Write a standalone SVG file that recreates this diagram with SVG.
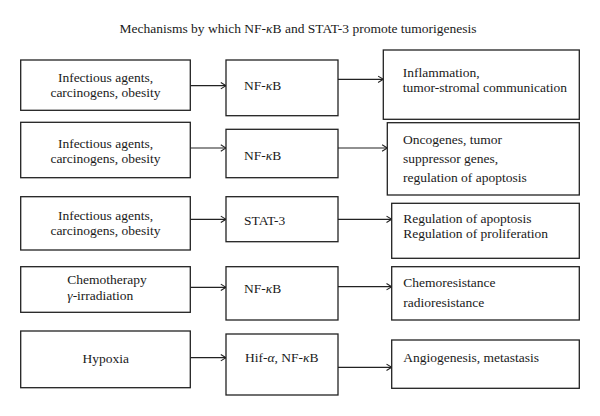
<svg xmlns="http://www.w3.org/2000/svg" width="600" height="416" viewBox="0 0 600 416">
<defs>
<style>
text{font-family:"Liberation Serif","DejaVu Serif",serif;font-size:13.5px;fill:#1a1a1a}
.t{font-size:13.5px}
.c{text-anchor:middle}
.box{fill:#fff;stroke:#222;stroke-width:1.3}
.con{stroke:#222;stroke-width:1.2;fill:none;marker-end:url(#ah)}
.g{font-style:italic}
</style>
<marker id="ah" viewBox="0 0 10 10" refX="9.5" refY="5" markerWidth="8" markerHeight="8" markerUnits="userSpaceOnUse" orient="auto">
<path d="M3,1 L9.5,5 L3,9" fill="none" stroke="#222" stroke-width="1.3"/>
</marker>
</defs>
<rect width="600" height="416" fill="#fff"/>
<text class="t c" x="298" y="33">Mechanisms by which NF-<tspan class="g">κ</tspan>B and STAT-3 promote tumorigenesis</text>

<g id="connectors">
<line class="con" x1="190.3" y1="85.7" x2="226" y2="85.7"/>
<line class="con" x1="338" y1="79.3" x2="383.3" y2="79.3"/>
<line class="con" x1="190.3" y1="148" x2="226" y2="148"/>
<line class="con" x1="338" y1="148" x2="387.3" y2="148"/>
<line class="con" x1="190.3" y1="219.3" x2="226" y2="219.3"/>
<line class="con" x1="338" y1="219.3" x2="391.7" y2="219.3"/>
<line class="con" x1="190.3" y1="287.3" x2="226" y2="287.3"/>
<line class="con" x1="338" y1="286.7" x2="391.7" y2="286.7"/>
<line class="con" x1="190.3" y1="357.7" x2="226" y2="357.7"/>
<line class="con" x1="338" y1="367.3" x2="391.7" y2="367.3"/>
</g>

<g id="r1-src"><rect class="box" x="20.7" y="60" width="169.6" height="50.3"/>
<text class="c" x="105.5" y="81.7">Infectious agents,</text><text class="c" x="105.5" y="96.7">carcinogens, obesity</text></g>
<g id="r1-mid"><rect class="box" x="226" y="60" width="112" height="55.7"/>
<text x="244" y="90">NF-<tspan class="g">κ</tspan>B</text></g>
<g id="r1-out"><rect class="box" x="383.3" y="50" width="196" height="69.3"/>
<text x="402.7" y="76.7">Inflammation,</text><text x="402.7" y="91.7">tumor-stromal communication</text></g>

<g id="r2-src"><rect class="box" x="20.7" y="122.3" width="169.6" height="55.4"/>
<text class="c" x="105.5" y="147.7">Infectious agents,</text><text class="c" x="105.5" y="162.7">carcinogens, obesity</text></g>
<g id="r2-mid"><rect class="box" x="226" y="129.3" width="112" height="48.4"/>
<text x="244" y="160">NF-<tspan class="g">κ</tspan>B</text></g>
<g id="r2-out"><rect class="box" x="387.3" y="122.7" width="192" height="72.3"/>
<text x="403" y="144">Oncogenes, tumor</text><text x="403" y="163">suppressor genes,</text><text x="403" y="182">regulation of apoptosis</text></g>

<g id="r3-src"><rect class="box" x="20.7" y="196.7" width="169.6" height="53.3"/>
<text class="c" x="105.5" y="219.7">Infectious agents,</text><text class="c" x="105.5" y="234.5">carcinogens, obesity</text></g>
<g id="r3-mid"><rect class="box" x="226" y="196.7" width="112" height="45"/>
<text x="244" y="225">STAT-3</text></g>
<g id="r3-out"><rect class="box" x="391.7" y="203.3" width="187.6" height="55"/>
<text x="403.3" y="223.3">Regulation of apoptosis</text><text x="403.3" y="238.3">Regulation of proliferation</text></g>

<g id="r4-src"><rect class="box" x="20.7" y="266.7" width="169.6" height="45.6"/>
<text x="67.3" y="284">Chemotherapy</text><text x="67.3" y="300"><tspan class="g">γ</tspan>-irradiation</text></g>
<g id="r4-mid"><rect class="box" x="226" y="266.7" width="112" height="53.3"/>
<text x="244" y="293.3">NF-<tspan class="g">κ</tspan>B</text></g>
<g id="r4-out"><rect class="box" x="391.7" y="266.7" width="187.6" height="53.3"/>
<text x="403.3" y="286.7">Chemoresistance</text><text x="403.3" y="306.7">radioresistance</text></g>

<g id="r5-src"><rect class="box" x="20.7" y="331" width="169.6" height="56.7"/>
<text class="c" x="105.8" y="363.3">Hypoxia</text></g>
<g id="r5-mid"><rect class="box" x="226" y="334" width="112" height="61"/>
<text x="245" y="361.7">Hif-<tspan class="g">α</tspan>, NF-<tspan class="g">κ</tspan>B</text></g>
<g id="r5-out"><rect class="box" x="391.7" y="340" width="187.6" height="48.3"/>
<text x="403.3" y="361.7">Angiogenesis, metastasis</text></g>
</svg>
